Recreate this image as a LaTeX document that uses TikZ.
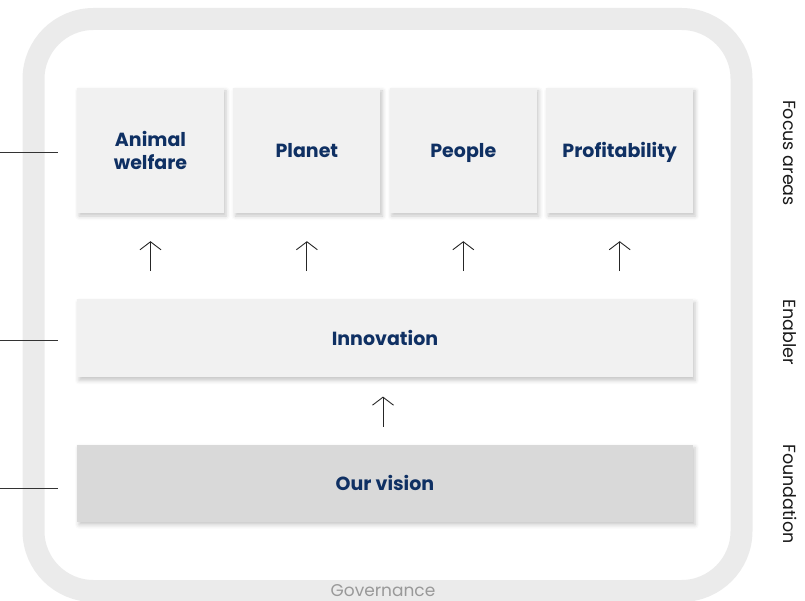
\documentclass[tikz,border=0pt]{standalone}
\usepackage{fontspec}
\setmainfont{Poppins}
\usetikzlibrary{positioning,arrows.meta,shadows.blur}
\definecolor{navy}{HTML}{0F3063}
\definecolor{tilegray}{HTML}{F1F1F1}
\definecolor{basegray}{HTML}{D9D9D9}
\definecolor{framegray}{HTML}{EBEBEB}
\definecolor{govgray}{HTML}{999999}
\begin{document}
\begin{tikzpicture}[x=1pt,y=-1pt,
	tile/.style={fill=tilegray, minimum width=147pt, minimum height=125pt, inner sep=0pt,
		align=center, text=navy, font=\fontsize{19}{23}\selectfont\bfseries,
		blur shadow={shadow xshift=2pt, shadow yshift=-3pt, shadow blur radius=4pt, shadow opacity=22}},
	oneline/.style={text height=16pt, text depth=2.6pt},
	bar/.style={tile, oneline, minimum width=616pt, minimum height=78pt},
	uparrow/.style={draw=black!85, line width=0.9pt, -{Straight Barb[length=8pt,width=21pt]}},
	tick/.style={draw=black!80, line width=0.8pt},
	sidelabel/.style={rotate=-90, font=\fontsize{17.5}{20}\selectfont, text=black!90}]
	\useasboundingbox (0,0) rectangle (805,601);

	% governance frame
	\draw[framegray, line width=22pt, rounded corners=60pt] (33.5,19) rectangle (741.5,591);
	\node[text=govgray, font=\fontsize{17}{20}\selectfont, anchor=base, inner sep=0pt] (gov) at (383,596.5) {Governance};

	% focus areas
	\node[tile] (awel) at (150.5,150.5) {Animal\\welfare};
	\node[tile, oneline, right=9pt of awel] (planet) {Planet};
	\node[tile, oneline, right=9pt of planet] (people) {People};
	\node[tile, oneline, right=9pt of people] (profit) {Profitability};

	% enabler and foundation
	\node[bar, anchor=north west] (innov) at ([yshift=-86pt]awel.south west) {Innovation};
	\node[bar, fill=basegray, minimum height=77pt, below=67pt of innov] (vision) {Our vision};

	% arrows
	\foreach \f in {awel,planet,people,profit}
		\draw[uparrow, shorten <=28pt, shorten >=28pt] (\f.south |- innov.north) -- (\f.south);
	\draw[uparrow, shorten <=18pt, shorten >=19pt] ([xshift=-2pt]vision.north) -- ([xshift=-2pt]innov.south);

	% left ticks
	\draw[tick] ([shift={(-19pt,-1.5pt)}]awel.west) -- ++(-58,0);
	\draw[tick] ([shift={(-19pt,-2pt)}]innov.west) -- ++(-58,0);
	\draw[tick] ([shift={(-19pt,-5.5pt)}]vision.west) -- ++(-58,0);

	% side labels
	\node[sidelabel] (focus) at (790,153) {Focus areas};
	\node[sidelabel] (enabler) at (790,332) {Enabler};
	\node[sidelabel] (found) at (790,494) {Foundation};
\end{tikzpicture}
\end{document}
